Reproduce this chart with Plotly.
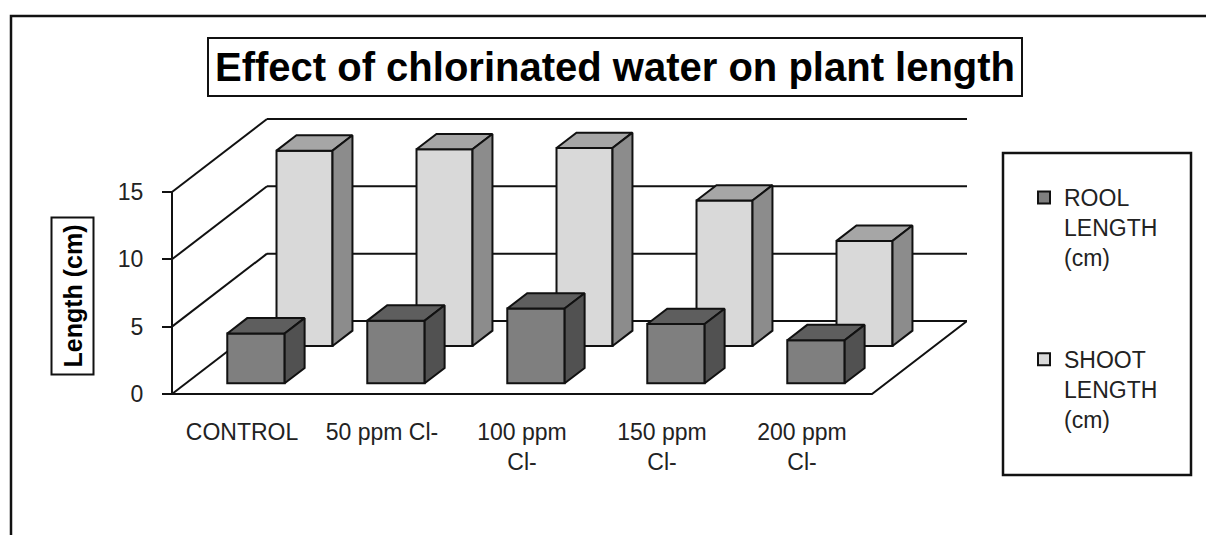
import plotly.graph_objects as go

# ---------------- data ----------------
categories = ["CONTROL", "50 ppm Cl-", "100 ppm Cl-", "150 ppm Cl-", "200 ppm Cl-"]
tick_labels = ["CONTROL", "50 ppm Cl-", "100 ppm<br>Cl-", "150 ppm<br>Cl-", "200 ppm<br>Cl-"]
root_length = [3.7, 4.65, 5.55, 4.4, 3.2]
shoot_length = [14.5, 14.6, 14.7, 10.8, 7.8]
series_names = ["ROOL<br>LENGTH<br>(cm)", "SHOOT<br>LENGTH<br>(cm)"]
y_ticks = [0, 5, 10, 15]

# ---------------- geometry / style ----------------
W, H = 1206, 535
ML, MR, MT, MB = 150, 239, 112, 137
PW, PH = W - ML - MR, H - MT - MB
PX_X = 140.0      # px per category
PX_Y = 13.47      # px per cm
AX0_PX, FLOOR_PX = 172, 394
DX = 95 / PX_X    # oblique depth (x units)
DY = 73 / PX_Y    # oblique depth (y units)
x_range = [(ML - AX0_PX) / PX_X, (W - MR - AX0_PX) / PX_X]
y_range = [-(MT + PH - FLOOR_PX) / PX_Y, (FLOOR_PX - MT) / PX_Y]
n = len(categories)
ymax = max(y_ticks)

FONT = "Liberation Sans, Arial, sans-serif"
TXT = "#222222"
LINE = "#111111"


def pxx(px):
    return (px - ML) / PW


def pxy(py):
    return 1 - (py - MT) / PH


fig = go.Figure()

# ---- walls, floor, gridlines (subplot x/y) ----
gx, gy = [], []
for v in y_ticks:
    gx += [DX, n + DX, None]
    gy += [v + DY, v + DY, None]
    gx += [0, DX, None]
    gy += [v, v + DY, None]
gx += [0, n, n + DX, None]
gy += [0, 0, DY, None]
gx += [0, 0]
gy += [0, ymax]
fig.add_trace(go.Scatter(x=gx, y=gy, mode="lines", line=dict(color=LINE, width=2),
                         hoverinfo="skip", showlegend=False, xaxis="x", yaxis="y"))


def add_series(values, name, d0, depth, width, c_front, c_top, c_side, xa, ya, group):
    cx = [i + 0.5 + d0 * DX for i in range(n)]
    base = [d0 * DY] * n
    fig.add_trace(go.Bar(x=cx, y=values, base=base, width=width, name=name,
                         marker=dict(color=c_front, line=dict(color=LINE, width=2)),
                         legendgroup=group, xaxis=xa, yaxis=ya,
                         hovertemplate="%{y}<extra></extra>"))
    ddx, ddy = depth * DX, depth * DY
    tx, ty, sx, sy = [], [], [], []
    for c, b, v in zip(cx, base, values):
        l, r, t = c - width / 2, c + width / 2, b + v
        tx += [l, r, r + ddx, l + ddx, l, None]
        ty += [t, t, t + ddy, t + ddy, t, None]
        sx += [r, r + ddx, r + ddx, r, r, None]
        sy += [b, b + ddy, t + ddy, t, b, None]
    fig.add_trace(go.Scatter(x=tx, y=ty, mode="lines", fill="toself", fillcolor=c_top,
                             line=dict(color=LINE, width=2), hoverinfo="skip",
                             showlegend=False, xaxis=xa, yaxis=ya))
    fig.add_trace(go.Scatter(x=sx, y=sy, mode="lines", fill="toself", fillcolor=c_side,
                             line=dict(color=LINE, width=2), hoverinfo="skip",
                             showlegend=False, xaxis=xa, yaxis=ya))


add_series(root_length, series_names[0], 0.147, 0.21, 0.41,
           "#7f7f7f", "#5e5e5e", "#515151", "x3", "y3", "root")
add_series(shoot_length, series_names[1], 0.658, 0.21, 0.40,
           "#d9d9d9", "#a6a6a6", "#8c8c8c", "x2", "y2", "shoot")

hidden = dict(visible=False, showgrid=False, zeroline=False)
fig.update_layout(
    width=W, height=H,
    margin=dict(l=ML, r=MR, t=MT, b=MB, autoexpand=False),
    paper_bgcolor="white", plot_bgcolor="white",
    showlegend=True,
    font=dict(family=FONT, size=23, color=TXT),
    xaxis=dict(range=x_range, domain=[0, 1], anchor="y",
               tickmode="array", tickvals=[i + 0.5 for i in range(n)], ticktext=tick_labels,
               ticks="", showline=False, showgrid=False, zeroline=False,
               tickfont=dict(family=FONT, size=23, color=TXT), ticklabelstandoff=18),
    yaxis=dict(range=y_range, domain=[0, 1], anchor="free", position=pxx(AX0_PX),
               tickmode="array", tickvals=y_ticks, ticks="outside", ticklen=10,
               tickwidth=2, tickcolor=LINE, showline=False, showgrid=False, zeroline=False,
               tickfont=dict(family=FONT, size=23, color=TXT), ticklabelstandoff=14),
    xaxis2=dict(overlaying="x", range=x_range, anchor="y2", **hidden),
    yaxis2=dict(overlaying="y", range=y_range, anchor="x2", **hidden),
    xaxis3=dict(overlaying="x", range=x_range, anchor="y3", **hidden),
    yaxis3=dict(overlaying="y", range=y_range, anchor="x3", **hidden),
    legend=dict(x=pxx(1024), y=pxy(176), xanchor="left", yanchor="top",
                bgcolor="rgba(0,0,0,0)", borderwidth=0, traceorder="grouped",
                tracegroupgap=69, valign="top",
                font=dict(family=FONT, size=23, color=TXT)),
    shapes=[
        dict(type="rect", xref="paper", yref="paper", x0=pxx(11), x1=pxx(1240),
             y0=pxy(570), y1=pxy(16), line=dict(color=LINE, width=2.5)),
        dict(type="rect", xref="paper", yref="paper", x0=pxx(1003), x1=pxx(1191),
             y0=pxy(475), y1=pxy(153), line=dict(color=LINE, width=2.5)),
    ],
    annotations=[
        dict(text="Effect of chlorinated water on plant length", xref="paper", yref="paper",
             x=pxx(615), y=pxy(67), xanchor="center", yanchor="middle", showarrow=False,
             font=dict(family=FONT, size=40, color="black", weight="bold"),
             bordercolor=LINE, borderwidth=2, borderpad=6, bgcolor="white"),
        dict(text="Length (cm)", xref="paper", yref="paper",
             x=pxx(72.5), y=pxy(296), xanchor="center", yanchor="middle", showarrow=False,
             textangle=-90, font=dict(family=FONT, size=25, color="black", weight="bold"),
             bordercolor=LINE, borderwidth=2, borderpad=6, bgcolor="white"),
    ],
)

fig.write_html("out.html", config={"displayModeBar": False},
               post_script="document.body.style.margin='0';")
